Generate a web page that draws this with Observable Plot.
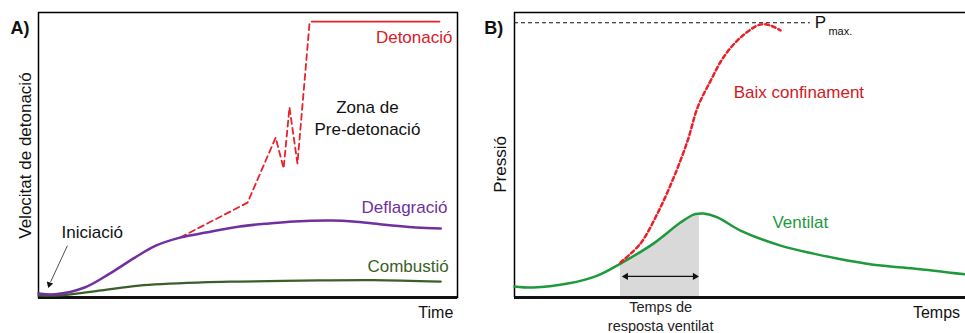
<!DOCTYPE html>
<html>
<head>
<meta charset="utf-8">
<script src="https://cdn.jsdelivr.net/npm/d3@7"></script>
<script src="https://cdn.jsdelivr.net/npm/@observablehq/plot@0.6"></script>
<style>
  html, body { margin: 0; padding: 0; background: #fff; }
  #wrap { display: flex; width: 965px; height: 333px; overflow: hidden; }
  svg { display: block; }
</style>
</head>
<body>
<div id="wrap"></div>
<script>
// ---------- Panel A data (time 0..100, velocity 0..100) ----------
const deflagTime = [0, 4, 11, 17, 23, 28, 34, 40, 48, 55, 61, 70, 75, 82, 90, 96];
const deflagVel  = [1.4, 1.1, 3.5, 8.4, 14, 18.2, 21.1, 22.8, 24.9, 26, 26.7, 27, 26.7, 25.6, 24.6, 24.2];

const combTime = [0, 5, 15, 24, 39, 48, 67, 80, 96];
const combVel  = [0.7, 0.7, 2.5, 4.2, 5.3, 5.6, 6.0, 6.1, 5.6];

const preDetTime = [33.9, 49.9, 56.6, 58.5, 59.9, 61.8, 64.7];
const preDetVel  = [21.1, 33.3, 56.1, 45.3, 66.7, 47.0, 96.5];

const detTime = [65.2, 95.7];
const detVel  = [96.8, 96.8];

// ---------- Panel B data (time 0..100, pressure 0..100) ----------
const ventTime  = [0, 4.2, 11.8, 18.4, 23.5, 30.8, 36.8, 39.7, 41.0, 41.9, 45.0, 50.1, 59.0, 66.3, 73.8, 81.2, 88.5, 100];
const ventPress = [3.9, 3.5, 4.9, 7.7, 11.9, 18.9, 26.3, 29.1, 29.4, 29.5, 28.1, 23.5, 18.2, 15.4, 13.0, 11.2, 10.2, 8.1];

const lowConfTime  = [23.5, 27.9, 31.7, 35.3, 38.4, 40.6, 43.5, 46.3, 50.1, 54.5, 56.8, 59.0];
const lowConfPress = [12.3, 18.9, 29.5, 42.1, 55.1, 66.7, 76.1, 84.2, 91.2, 95.8, 95.4, 93.7];

const pMax = 96.4;
const responseStart = 23.5, responseEnd = 41.0;

// ---------- build tables ----------
const zip = (xs, ys) => xs.map((t, i) => ({t, v: ys[i]}));
const deflag = zip(deflagTime, deflagVel);
const comb = zip(combTime, combVel);
const preDet = zip(preDetTime, preDetVel);
const det = zip(detTime, detVel);
const vent = zip(ventTime, ventPress);
const lowConf = zip(lowConfTime, lowConfPress);
const shaded = vent.filter(d => d.t >= responseStart && d.t <= responseEnd);

const FONT = "'Liberation Sans', Arial, Helvetica, sans-serif";
const RED = "#e8212b", PURPLE = "#7030a0", DKGREEN = "#3a5f28", GREEN = "#1e9a3c";

// annotation labels (text, position)
const labelsA = [
  {text: "Detonació", t: 98.8, v: 91.2, c: "#d9202a", a: "end"},
  {text: "Deflagració", t: 97.6, v: 31.6, c: PURPLE, a: "end"},
  {text: "Combustió", t: 97.9, v: 10.9, c: DKGREEN, a: "end"},
  {text: "Zona de", t: 78.5, v: 66.7, c: "#111", a: "middle"},
  {text: "Pre-detonació", t: 78.5, v: 58.9, c: "#111", a: "middle"},
  {text: "Iniciació", t: 5.5, v: 22.8, c: "#111", a: "start"}
];

const plotA = Plot.plot({
  width: 480, height: 333,
  marginLeft: 38, marginRight: 23, marginTop: 12, marginBottom: 36,
  x: {domain: [0, 100], axis: null},
  y: {domain: [0, 100], axis: null},
  style: {fontFamily: FONT, background: "white", overflow: "visible"},
  marks: [
    Plot.frame({stroke: "#000", strokeWidth: 1.5}),
    Plot.ruleY([0], {stroke: "#111", strokeWidth: 3}),
    Plot.line(comb, {x: "t", y: "v", stroke: DKGREEN, strokeWidth: 2.2, curve: "catmull-rom"}),
    Plot.line(preDet, {x: "t", y: "v", stroke: RED, strokeWidth: 1.8, strokeDasharray: "6,4"}),
    Plot.line(det, {x: "t", y: "v", stroke: RED, strokeWidth: 1.8}),
    Plot.line(deflag, {x: "t", y: "v", stroke: PURPLE, strokeWidth: 2.5, curve: "catmull-rom"}),
    Plot.link([{x1: 6.9, y1: 18.2, x2: 2.9, y2: 5.5}], {x1: "x1", y1: "y1", x2: "x2", y2: "y2", stroke: "#222", strokeWidth: 0.8}),
    Plot.dot([{x: 2.6, y: 4.6}], {x: "x", y: "y", symbol: "triangle2", r: 3.2, fill: "#111", rotate: -163}),
    ...["start", "middle", "end"].map(a =>
      Plot.text(labelsA.filter(d => d.a === a), {x: "t", y: "v", text: "text", fill: "c", textAnchor: a, fontSize: 17})
    ),
    Plot.text(["A)"], {x: -6.7, y: 94.4, text: d => d, textAnchor: "start", fontSize: 18, fontWeight: "bold", fill: "#111"}),
    Plot.text(["Time"], {x: 99, y: -5.3, text: d => d, textAnchor: "end", fontSize: 16, fill: "#111"}),
    Plot.text(["Velocitat de detonació"], {x: -3.1, y: 49.8, text: d => d, rotate: -90, fontSize: 17, fill: "#111"})
  ]
});

const plotB = Plot.plot({
  width: 485, height: 333,
  marginLeft: 34, marginRight: 0, marginTop: 12, marginBottom: 36,
  x: {domain: [0, 100], axis: null},
  y: {domain: [0, 100], axis: null},
  style: {fontFamily: FONT, background: "white", overflow: "visible"},
  marks: [
    Plot.areaY(shaded, {x: "t", y: "v", fill: "#d9d9d9", curve: "catmull-rom"}),
    Plot.ruleX([0], {stroke: "#000", strokeWidth: 1.5}),
    Plot.ruleY([100], {stroke: "#000", strokeWidth: 1.5}),
    Plot.ruleY([0], {stroke: "#111", strokeWidth: 3}),
    Plot.ruleY([pMax], {x1: 0, x2: 65.6, stroke: "#111", strokeWidth: 1.1, strokeDasharray: "4,3"}),
    Plot.link([{x1: responseStart + 1.2, x2: responseEnd - 1.0, y: 7.4}], {x1: "x1", x2: "x2", y1: "y", y2: "y", stroke: "#111", strokeWidth: 1.2}),
    Plot.dot([{x: responseStart + 1.2, y: 7.4, r: -90}, {x: responseEnd - 1.0, y: 7.4, r: 90}], {x: "x", y: "y", symbol: "triangle2", r: 3.4, fill: "#111", rotate: "r"}),
    Plot.line(vent, {x: "t", y: "v", stroke: GREEN, strokeWidth: 2.5, curve: "catmull-rom"}),
    Plot.line(lowConf, {x: "t", y: "v", stroke: RED, strokeWidth: 2.5, strokeDasharray: "4,3", curve: "catmull-rom"}),
    Plot.text(["Baix confinament"], {x: 48.6, y: 71.9, text: d => d, textAnchor: "start", fontSize: 17, fill: "#d11a22"}),
    Plot.text(["Ventilat"], {x: 57.2, y: 26.3, text: d => d, textAnchor: "start", fontSize: 17, fill: GREEN}),
    Plot.text(["P"], {x: 66.6, y: 96.5, text: d => d, textAnchor: "start", fontSize: 17, fill: "#111"}),
    Plot.text(["max."], {x: 69.6, y: 93.2, text: d => d, textAnchor: "start", fontSize: 11, fill: "#111"}),
    Plot.text(["Temps de"], {x: 32.4, y: -3.5, text: d => d, fontSize: 14.5, fill: "#222"}),
    Plot.text(["resposta ventilat"], {x: 32.4, y: -10.2, text: d => d, fontSize: 14.5, fill: "#222"}),
    Plot.text(["Temps"], {x: 98.8, y: -5.3, text: d => d, textAnchor: "end", fontSize: 16, fill: "#111"}),
    Plot.text(["Pressió"], {x: -3.1, y: 46.7, text: d => d, rotate: -90, fontSize: 17, fill: "#111"}),
    Plot.text(["B)"], {x: -6.7, y: 94.4, text: d => d, textAnchor: "start", fontSize: 18, fontWeight: "bold", fill: "#111"})
  ]
});

document.getElementById("wrap").append(plotA, plotB);
</script>
</body>
</html>
